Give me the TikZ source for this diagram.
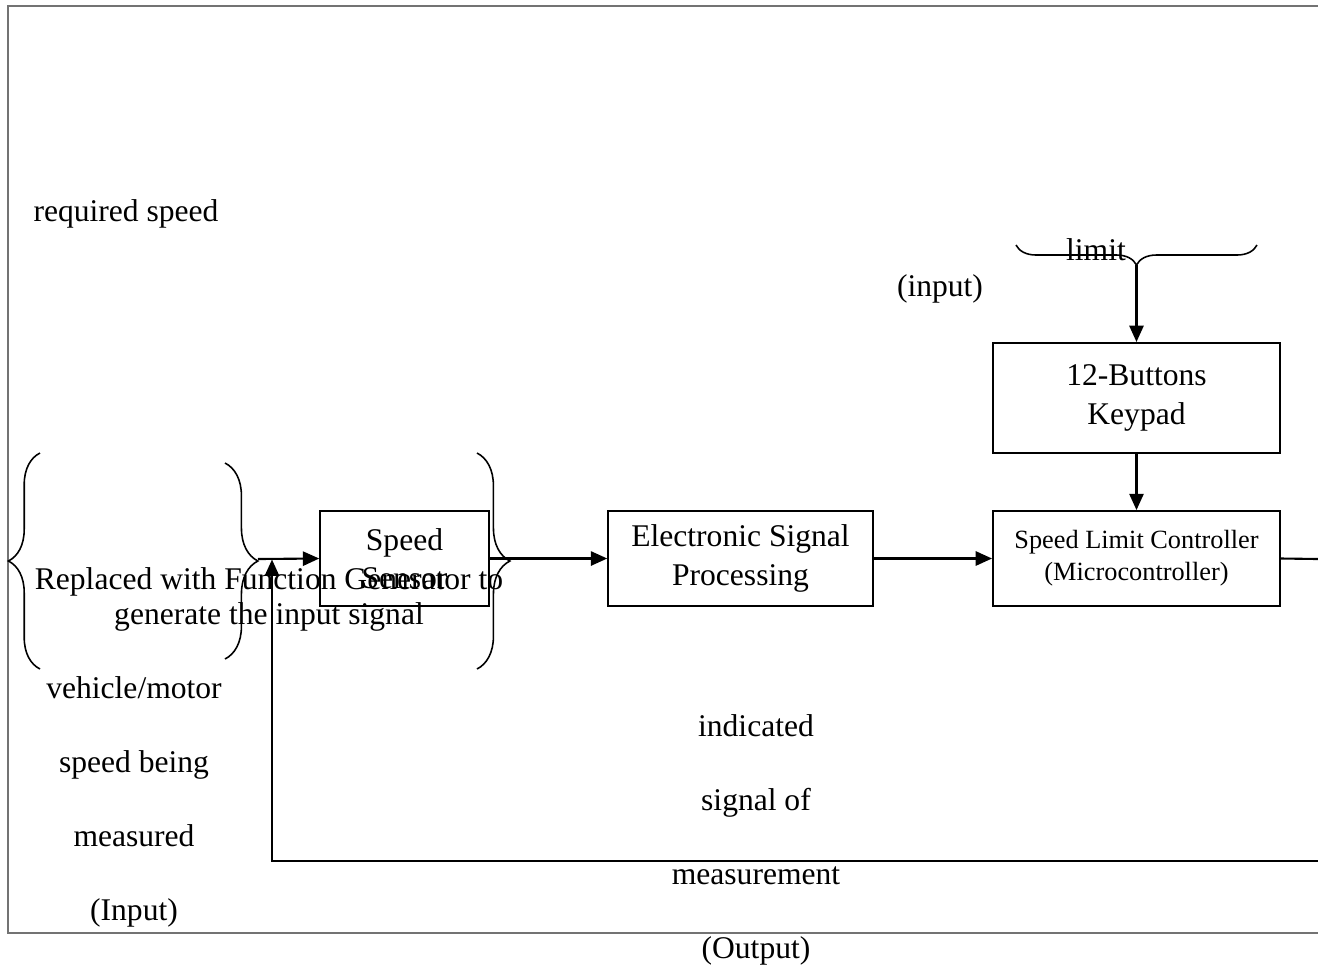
\documentclass[tikz,border=0pt]{standalone}
\usepackage{fontspec}
\setmainfont{Liberation Serif}
\usetikzlibrary{arrows.meta,decorations.pathreplacing}

\begin{document}
\begin{tikzpicture}[x=0.38pt, y=-0.38pt,
  block/.style={draw, line width=0.8pt, inner sep=0pt, align=center, font=\fontsize{12}{14.5}\selectfont},
  txt/.style={inner sep=0pt, align=center, font=\fontsize{12}{14.5}\selectfont},
  link/.style={line width=0.8pt, -{Triangle[length=6.2pt,width=5.4pt]}},
  wire/.style={line width=0.8pt},
  curly/.style={decorate, line width=0.6pt, decoration={brace, amplitude=#1}},
  frame/.style={draw=black!55, line width=0.7pt}]

  \useasboundingbox (0,0) rectangle (1318,971);

  % Frame
  \draw[frame] (1318,6) -- (8,6) -- (8,933) -- (1318,933);

  % Blocks
  \node[block, minimum width=64pt, minimum height=36pt] (sensor) at (404.5,558.5) {Speed\\Sensor};
  \node[block, minimum width=100.5pt, minimum height=36pt] (esp) at (740.5,558.5) {Electronic Signal\\Processing};
  \node[block, minimum width=109pt, minimum height=36pt, font=\fontsize{10}{12.2}\selectfont] (ctrl) at (1136.5,558.5) {Speed Limit Controller\\(Microcontroller)};
  \node[block, minimum width=109pt, minimum height=41.8pt] (keypad) at (1136.5,398) {12-Buttons\\Keypad};

  % Braces
  \draw[curly=12pt] (40,669) -- (40,453);
  \draw[curly=12.5pt] (225,463) -- (225,659);
  \draw[curly=12.5pt] (477,453) -- (477,669);
  \draw[curly=7.6pt] (1257,245) -- (1016,245);

  \coordinate (gentip) at (258,559);
  \coordinate (keytip) at (1136.5,265);
  \coordinate (ctrlout) at (1318,559);
  \coordinate (fbstart) at (1318,861);
  \coordinate (fbtip) at (272,559.5);

  % Labels
  \node[txt] (reqtxt) at (126,214) {required speed};
  \node[txt] (limtxt) at (1096,250) {limit};
  \node[txt] (inputtxt) at (940,289) {(input)};
  \node[txt, font=\fontsize{12}{13.4}\selectfont] (gentxt) at (269,599.5) {Replaced with Function Generator to\\generate the input signal};
  \node[txt, font=\fontsize{12}{28.1}\selectfont] (meastxt) at (134,802) {vehicle/motor\\speed being\\measured\\(Input)};
  \node[txt, font=\fontsize{12}{28.1}\selectfont] (outtxt) at (756,839.5) {indicated\\signal of\\measurement\\(Output)};

  % Arrows
  \draw[link] (gentip) -- (sensor.west);
  \draw[link] (sensor.east) -- (esp.west);
  \draw[link] (esp.east) -- (ctrl.west);
  \draw[link] (keytip) -- (keypad.north);
  \draw[link] (keypad.south) -- (ctrl.north);
  \draw[wire] (ctrl.east) -- (ctrlout);
  \draw[link] (fbstart) -| (fbtip);

\end{tikzpicture}
\end{document}
